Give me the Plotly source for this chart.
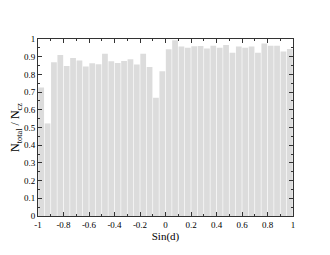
import numpy as np
import plotly.graph_objects as go

# bin centres of sin(d), width 0.05
bin_width = 0.05
sin_d = np.round(np.arange(-1 + bin_width / 2, 1, bin_width), 3)

ratio = [0.726, 0.523, 0.869, 0.910, 0.848, 0.893, 0.878, 0.844, 0.863, 0.857,
         0.916, 0.874, 0.865, 0.876, 0.886, 0.856, 0.917, 0.842, 0.668, 0.818,
         0.942, 0.993, 0.957, 0.950, 0.959, 0.961, 0.946, 0.962, 0.951, 0.966,
         0.923, 0.957, 0.951, 0.957, 0.923, 0.974, 0.962, 0.962, 0.929, 0.944]

x_ticks = [-1, -0.8, -0.6, -0.4, -0.2, 0, 0.2, 0.4, 0.6, 0.8, 1]
x_labels = ["-1", "-0.8", "-0.6", "-0.4", "-0.2", "0", "0.2", "0.4", "0.6", "0.8", "1"]
y_ticks = [0, 0.1, 0.2, 0.3, 0.4, 0.5, 0.6, 0.7, 0.8, 0.9, 1]
y_labels = ["0", "0.1", "0.2", "0.3", "0.4", "0.5", "0.6", "0.7", "0.8", "0.9", "1"]

fig = go.Figure(go.Bar(x=sin_d, y=ratio, width=bin_width * 0.9,
                       marker=dict(color='#dcdcdc', line=dict(width=0))))

axis_style = dict(showline=True, linewidth=1, linecolor='#333333', mirror='ticks',
                  showgrid=False, zeroline=False, ticks='inside', ticklen=4,
                  tickcolor='#333333', tickfont=dict(size=9, color='black'),
                  automargin=False)

fig.update_xaxes(range=[-1, 1], tickvals=x_ticks, ticktext=x_labels,
                 minor=dict(dtick=0.1, tick0=0, ticks='inside', ticklen=2, tickcolor='#333333'),
                 title=dict(text='Sin(d)', font=dict(size=11, color='black'), standoff=0),
                 **axis_style)
fig.update_yaxes(range=[0, 1], tickvals=y_ticks, ticktext=y_labels,
                 minor=dict(dtick=0.05, tick0=0, ticks='inside', ticklen=2, tickcolor='#333333'),
                 title=dict(text='N<sub>total</sub> / N<sub>cz</sub>',
                            font=dict(size=12, color='black'), standoff=2),
                 **axis_style)

# page body adds an 8px offset, so margins are shifted to compensate
fig.update_layout(autosize=False, width=330, height=255,
                  plot_bgcolor='white', paper_bgcolor='white',
                  margin=dict(l=30, r=45, t=31, b=47),
                  font=dict(family='Liberation Serif', color='black'),
                  showlegend=False)

fig.write_html("out.html")
